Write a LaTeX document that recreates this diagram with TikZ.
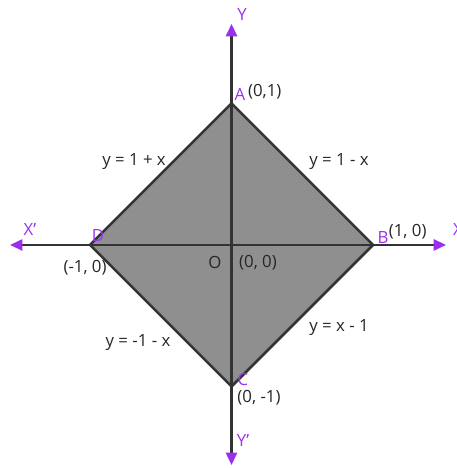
\documentclass[tikz,border=0pt]{standalone}
\usepackage{fontspec}
\setmainfont{Open Sans}
\usepackage{tikz}
\usetikzlibrary{positioning,arrows.meta,calc}
\usepackage{xcolor}
\definecolor{violet}{HTML}{9B2FF0}
\definecolor{edge}{HTML}{333333}
\definecolor{greyfill}{HTML}{8F8F8F}

\begin{document}
\begin{tikzpicture}[
        x=4cm, y=4cm,
        axis/.style={{Triangle[color=violet,length=10pt,width=9pt]}-{Triangle[color=violet,length=10pt,width=9pt]}, line width=1.8pt, color=edge},
        side/.style={line width=2pt, color=edge},
        pt/.style={font=\fontsize{13.5}{15}\selectfont, color=violet, inner sep=1pt},
        lbl/.style={font=\fontsize{13.5}{15}\selectfont, color=black!85, inner sep=1pt}
    ]
        \useasboundingbox (-1.636,-1.576) rectangle (1.587,1.731);

        \coordinate (A) at (0,1);
        \coordinate (B) at (1,0);
        \coordinate (C) at (0,-1);
        \coordinate (D) at (-1,0);
        \coordinate (xl) at (-1.565,0);
        \coordinate (xr) at (1.516,0);
        \coordinate (yt) at (0,1.562);
        \coordinate (yb) at (0,-1.555);

        \fill[greyfill] (A) -- (B) -- (C) -- (D) -- cycle;
        \draw[axis] (xl) -- (xr);
        \draw[axis] (yb) -- (yt);
        \draw[side] (A) -- (B) -- (C) -- (D) -- cycle;

        \node[pt] (ny) at (0.074,1.625) {Y};
        \node[pt] (nyy) at (0.081,-1.385) {Y'};
        \node[pt] (nxx) at (-1.424,0.106) {X'};
        \node[pt] (nx) at (1.6,0.106) {X};

        \node[pt] (na) at (0.06,1.06) {A};
        \node[lbl] (ca) at (0.235,1.08) {(0,1)};
        \node[pt] (nb) at (1.07,0.05) {B};
        \node[lbl] (cb) at (1.245,0.09) {(1, 0)};
        \node[pt] (nc) at (0.081,-0.954) {C};
        \node[lbl] (cc) at (0.194,-1.081) {(0, -1)};
        \node[pt] (nd) at (-0.943,0.064) {D};
        \node[lbl] (cd) at (-1.035,-0.163) {(-1, 0)};
        \node[lbl] (no) at (-0.117,-0.127) {O};
        \node[lbl] (co) at (0.187,-0.127) {(0, 0)};

        \node[lbl] (ab) at (0.76,0.587) {y = 1 - x};
        \node[lbl] (da) at (-0.689,0.587) {y = 1 + x};
        \node[lbl] (cd1) at (-0.661,-0.686) {y = -1 - x};
        \node[lbl] (bc) at (0.76,-0.58) {y = x - 1};
    \end{tikzpicture}
\end{document}
